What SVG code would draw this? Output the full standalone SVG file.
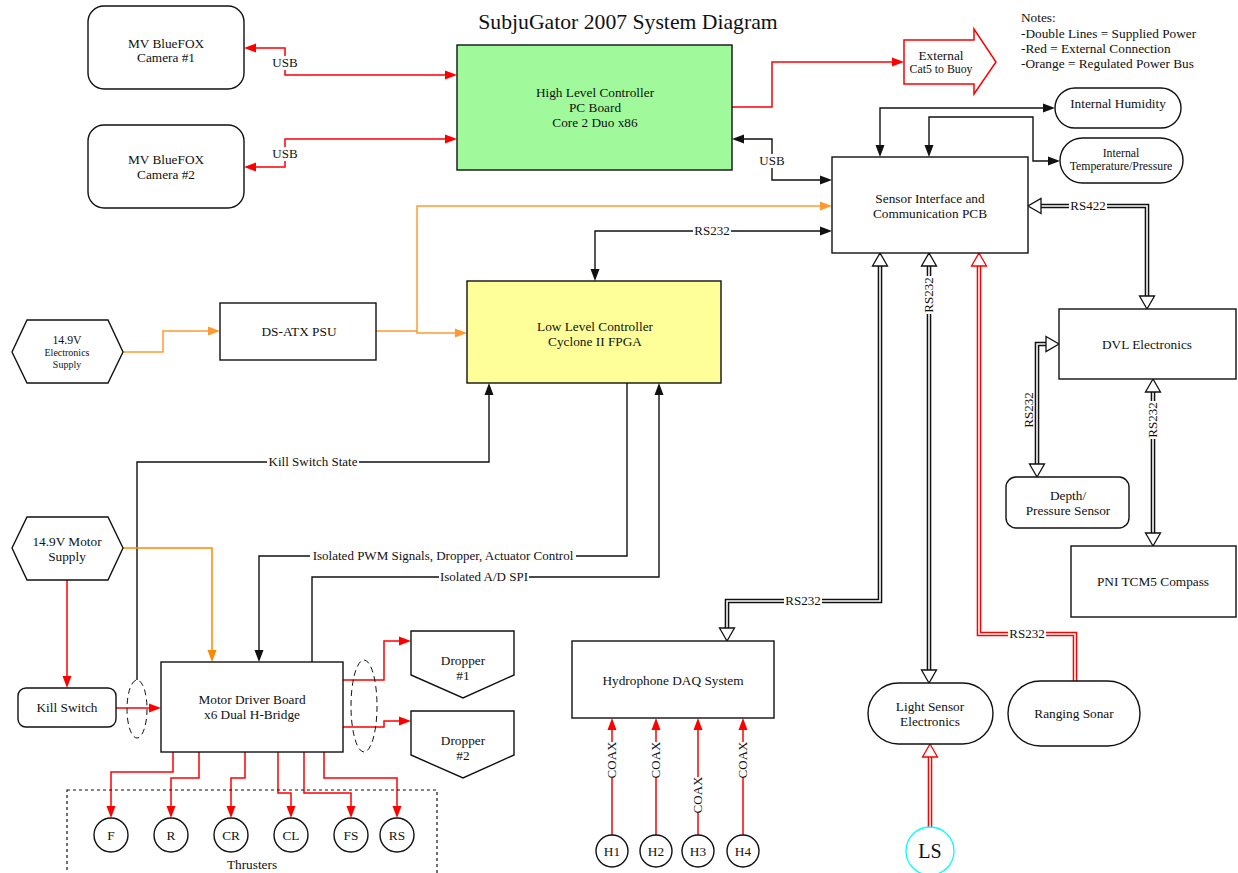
<svg xmlns="http://www.w3.org/2000/svg" width="1238" height="873" viewBox="0 0 1238 873">
<style>
text{font-family:"Liberation Serif","Times New Roman",serif;fill:#111;text-anchor:middle}
.n{font-size:13.3px}
.s{font-size:11.8px}
.xs{font-size:10px}
.lbl{font-size:13px}
.lb{fill:#fff;stroke:none}
.box{fill:#fff;stroke:#111;stroke-width:1.4}
.k{fill:none;stroke:#111;stroke-width:1.4}
.r{fill:none;stroke:#f00;stroke-width:1.5}
.o{fill:none;stroke:#ff9a33;stroke-width:1.5}
.o2{fill:none;stroke:#ff8800;stroke-width:1.5}
.dk{fill:none;stroke:#111;stroke-width:4.6}
.dr{fill:none;stroke:#f00;stroke-width:4.6}
.di{fill:none;stroke:#fff;stroke-width:1.6}
.note{font-size:13.3px;text-anchor:start}
</style>
<defs>
<marker id="ak" markerUnits="userSpaceOnUse" markerWidth="12" markerHeight="9" refX="0" refY="4.5" orient="auto-start-reverse" overflow="visible"><path d="M0,0 L12,4.5 L0,9 z" fill="#111"/></marker>
<marker id="ar" markerUnits="userSpaceOnUse" markerWidth="12" markerHeight="9" refX="0" refY="4.5" orient="auto-start-reverse" overflow="visible"><path d="M0,0 L12,4.5 L0,9 z" fill="#f00"/></marker>
<marker id="ao" markerUnits="userSpaceOnUse" markerWidth="12" markerHeight="9" refX="0" refY="4.5" orient="auto-start-reverse" overflow="visible"><path d="M0,0 L12,4.5 L0,9 z" fill="#ff9a33"/></marker>
<marker id="ao2" markerUnits="userSpaceOnUse" markerWidth="12" markerHeight="9" refX="0" refY="4.5" orient="auto-start-reverse" overflow="visible"><path d="M0,0 L12,4.5 L0,9 z" fill="#ff8800"/></marker>
<marker id="hk" markerUnits="userSpaceOnUse" markerWidth="13" markerHeight="15" refX="0" refY="7.5" orient="auto-start-reverse" overflow="visible"><path d="M0,0 L13,7.5 L0,15 z" fill="#fff" stroke="#111" stroke-width="1.3"/></marker>
<marker id="hr" markerUnits="userSpaceOnUse" markerWidth="13" markerHeight="15" refX="0" refY="7.5" orient="auto-start-reverse" overflow="visible"><path d="M0,0 L13,7.5 L0,15 z" fill="#fff" stroke="#f00" stroke-width="1.3"/></marker>
</defs>
<rect width="1238" height="873" fill="#fff"/>
<text x="628" y="29" style="font-size:21.7px">SubjuGator 2007 System Diagram</text>
<g id="notes">
<text class="note" x="1021" y="22">Notes:</text>
<text class="note" x="1021" y="38">-Double Lines = Supplied Power</text>
<text class="note" x="1021" y="53">-Red = External Connection</text>
<text class="note" x="1021" y="68">-Orange = Regulated Power Bus</text>
</g>

<g id="connectors">
<path class="r" d="M256,48 L285,48 L285,75 L445,75" marker-start="url(#ar)" marker-end="url(#ar)"/>
<rect class="lb" x="271" y="56" width="28" height="14"/><text class="lbl" x="285" y="67">USB</text>
<path class="r" d="M256,167 L285,167 L285,139 L445,139" marker-start="url(#ar)" marker-end="url(#ar)"/>
<rect class="lb" x="271" y="147" width="28" height="14"/><text class="lbl" x="285" y="158">USB</text>
<path class="r" d="M732,107 L772,107 L772,62 L892,62" marker-end="url(#ar)"/>
<path class="k" d="M744,139 L772,139 L772,180 L820,180" marker-start="url(#ak)" marker-end="url(#ak)"/>
<rect class="lb" x="758" y="154" width="28" height="14"/><text class="lbl" x="772" y="165">USB</text>
<path class="k" d="M880,145 L880,108 L1043,108" marker-start="url(#ak)" marker-end="url(#ak)"/>
<path class="k" d="M929,145 L929,117 L1033,117 L1033,161 L1048,161" marker-start="url(#ak)" marker-end="url(#ak)"/>
<path class="o" d="M376,331 L417,331 L417,206 L820,206" marker-end="url(#ao)"/>
<path class="o" d="M417,331 L417,333 L455,333" marker-end="url(#ao)"/>
<path class="o" d="M123,352 L163,352 L163,331 L208,331" marker-end="url(#ao)"/>
<path class="k" d="M820,231 L595,231 L595,269" marker-start="url(#ak)" marker-end="url(#ak)"/>
<rect class="lb" x="693" y="224" width="38" height="14"/><text class="lbl" x="712" y="235">RS232</text>
<path class="k" d="M137,680 L137,462 L489,462 L489,395" marker-end="url(#ak)"/>
<rect class="lb" x="267" y="455" width="92" height="14"/><text class="lbl" x="313" y="466">Kill Switch State</text>
<path class="k" d="M627,383 L627,556 L259,556 L259,650" marker-end="url(#ak)"/>
<rect class="lb" x="310" y="549" width="266" height="14"/><text class="lbl" x="443" y="560">Isolated PWM Signals, Dropper, Actuator Control</text>
<path class="k" d="M312,662 L312,577 L659,577 L659,395" marker-end="url(#ak)"/>
<rect class="lb" x="439" y="570" width="90" height="14"/><text class="lbl" x="484" y="581">Isolated A/D SPI</text>
<path class="o2" d="M123,548 L212,548 L212,650" marker-end="url(#ao2)"/>
<path class="r" d="M67,580 L67,676" marker-end="url(#ar)"/>
<path class="r" d="M116,708 L149,708" marker-end="url(#ar)"/>
<path class="r" d="M343,680 L384,680 L384,641 L399,641" marker-end="url(#ar)"/>
<path class="r" d="M343,727 L384,727 L384,721 L399,721" marker-end="url(#ar)"/>
<path class="r" d="M173,752 L173,772 L111,772 L111,806" marker-end="url(#ar)"/>
<path class="r" d="M199,752 L199,778 L171,778 L171,806" marker-end="url(#ar)"/>
<path class="r" d="M245,752 L245,778 L231,778 L231,806" marker-end="url(#ar)"/>
<path class="r" d="M278,752 L278,793 L291,793 L291,806" marker-end="url(#ar)"/>
<path class="r" d="M304,752 L304,793 L351,793 L351,806" marker-end="url(#ar)"/>
<path class="r" d="M324,752 L324,778 L397,778 L397,806" marker-end="url(#ar)"/>
<path class="r" d="M612,835 L612,730" marker-end="url(#ar)"/>
<path class="r" d="M656,835 L656,730" marker-end="url(#ar)"/>
<path class="r" d="M698,835 L698,730" marker-end="url(#ar)"/>
<path class="r" d="M743,835 L743,730" marker-end="url(#ar)"/>
<rect class="lb" x="605" y="742" width="13" height="36"/><text class="lbl" transform="translate(616,760) rotate(-90)">COAX</text>
<rect class="lb" x="649" y="742" width="13" height="36"/><text class="lbl" transform="translate(660,760) rotate(-90)">COAX</text>
<rect class="lb" x="691" y="777" width="13" height="36"/><text class="lbl" transform="translate(702,795) rotate(-90)">COAX</text>
<rect class="lb" x="736" y="742" width="13" height="36"/><text class="lbl" transform="translate(747,760) rotate(-90)">COAX</text>
<path class="dk" d="M880,266 L880,601 L727,601 L727,628"/>
<path class="di" d="M880,266 L880,601 L727,601 L727,628" marker-start="url(#hk)" marker-end="url(#hk)"/>
<rect class="lb" x="784" y="594" width="38" height="14"/><text class="lbl" x="803" y="605">RS232</text>
<path class="dk" d="M929,266 L929,670"/>
<path class="di" d="M929,266 L929,670" marker-start="url(#hk)" marker-end="url(#hk)"/>
<rect class="lb" x="922" y="276" width="13" height="38"/><text class="lbl" transform="translate(933,295) rotate(-90)">RS232</text>
<path class="dr" d="M1075,681 L1075,634 L979,634 L979,266"/>
<path class="di" d="M1075,681 L1075,634 L979,634 L979,266" marker-end="url(#hr)"/>
<rect class="lb" x="1008" y="627" width="38" height="14"/><text class="lbl" x="1027" y="638">RS232</text>
<path class="dr" d="M930,827 L930,757"/>
<path class="di" d="M930,827 L930,757" marker-end="url(#hr)"/>
<path class="dk" d="M1041,206 L1147,206 L1147,296"/>
<path class="di" d="M1041,206 L1147,206 L1147,296" marker-start="url(#hk)" marker-end="url(#hk)"/>
<rect class="lb" x="1069" y="199" width="38" height="14"/><text class="lbl" x="1088" y="210">RS422</text>
<path class="dk" d="M1046,344 L1037,344 L1037,464"/>
<path class="di" d="M1046,344 L1037,344 L1037,464" marker-start="url(#hk)" marker-end="url(#hk)"/>
<text class="lbl" transform="translate(1033,410) rotate(-90)">RS232</text>
<path class="dk" d="M1153,392 L1153,533"/>
<path class="di" d="M1153,392 L1153,533" marker-start="url(#hk)" marker-end="url(#hk)"/>
<rect class="lb" x="1146" y="401" width="13" height="38"/><text class="lbl" transform="translate(1157,420) rotate(-90)">RS232</text>
</g>

<g id="cam1"><rect class="box" x="88" y="6" width="156" height="83" rx="16"/><text class="n" x="166" y="48">MV BlueFOX</text><text class="n" x="166" y="62">Camera #1</text></g>
<g id="cam2"><rect class="box" x="88" y="125" width="156" height="83" rx="16"/><text class="n" x="166" y="164">MV BlueFOX</text><text class="n" x="166" y="179">Camera #2</text></g>
<g id="hlc"><rect x="457" y="45" width="275" height="125" fill="#a0fa9c" stroke="#111" stroke-width="1.4"/><text class="n" x="595" y="97">High Level Controller</text><text class="n" x="595" y="112">PC Board</text><text class="n" x="595" y="127">Core 2 Duo x86</text></g>
<g id="external"><polygon points="904,40 974,40 974,29 996,62 974,94 974,84 904,84" fill="#fff" stroke="#f00" stroke-width="1.5"/><text class="n" x="941" y="60">External</text><text class="s" x="941" y="73">Cat5 to Buoy</text></g>
<g id="humidity"><rect class="box" x="1055" y="88" width="126" height="40" rx="20"/><text class="n" x="1118" y="108">Internal Humidity</text></g>
<g id="temp"><rect class="box" x="1060" y="138" width="123" height="45" rx="22.5"/><text class="s" x="1121" y="157">Internal</text><text class="s" x="1121" y="170">Temperature/Pressure</text></g>
<g id="sip"><rect class="box" x="832" y="157" width="196" height="96"/><text class="n" x="930" y="203">Sensor Interface and</text><text class="n" x="930" y="218">Communication PCB</text></g>
<g id="llc"><rect x="467" y="281" width="254" height="102" fill="#ffff99" stroke="#111" stroke-width="1.4"/><text class="n" x="595" y="331">Low Level Controller</text><text class="n" x="595" y="346">Cyclone II FPGA</text></g>
<g id="psu"><rect class="box" x="220" y="303" width="156" height="57"/><text class="n" x="299" y="336">DS-ATX PSU</text></g>
<g id="esupply"><polygon class="box" points="12,352 27,320 108,320 123,352 108,383 27,383"/><text class="s" x="67" y="344">14.9V</text><text class="xs" x="67" y="356">Electronics</text><text class="xs" x="67" y="368">Supply</text></g>
<g id="msupply"><polygon class="box" points="12,548 27,517 108,517 123,548 108,580 27,580"/><text class="n" x="67" y="546">14.9V Motor</text><text class="n" x="67" y="561">Supply</text></g>
<g id="killswitch"><rect class="box" x="18" y="688" width="98" height="39" rx="8"/><text class="n" x="67" y="712">Kill Switch</text></g>
<g id="mdb"><rect class="box" x="161" y="662" width="182" height="90"/><text class="n" x="252" y="704">Motor Driver Board</text><text class="n" x="252" y="719">x6 Dual H-Bridge</text></g>
<g id="ell1"><ellipse cx="137" cy="709" rx="10" ry="29" fill="none" stroke="#111" stroke-width="1" stroke-dasharray="6,4"/></g>
<g id="ell2"><ellipse cx="364" cy="706" rx="13" ry="46" fill="none" stroke="#111" stroke-width="1" stroke-dasharray="6,4"/></g>
<g id="dropper1"><polygon class="box" points="411,631 514,631 514,675 463,698 411,675"/><text class="n" x="463" y="665">Dropper</text><text class="n" x="463" y="680">#1</text></g>
<g id="dropper2"><polygon class="box" points="411,711 514,711 514,755 463,778 411,755"/><text class="n" x="463" y="745">Dropper</text><text class="n" x="463" y="760">#2</text></g>
<g id="thrusters">
<rect x="67" y="790" width="370" height="90" fill="none" stroke="#111" stroke-width="1.2" stroke-dasharray="3,3"/>
<text class="n" x="252" y="869">Thrusters</text>
<g id="tF"><circle class="box" cx="111" cy="835" r="17"/><text class="n" x="111" y="840">F</text></g>
<g id="tR"><circle class="box" cx="171" cy="835" r="17"/><text class="n" x="171" y="840">R</text></g>
<g id="tCR"><circle class="box" cx="231" cy="835" r="17"/><text class="n" x="231" y="840">CR</text></g>
<g id="tCL"><circle class="box" cx="291" cy="835" r="17"/><text class="n" x="291" y="840">CL</text></g>
<g id="tFS"><circle class="box" cx="351" cy="835" r="17"/><text class="n" x="351" y="840">FS</text></g>
<g id="tRS"><circle class="box" cx="397" cy="835" r="17"/><text class="n" x="397" y="840">RS</text></g>
</g>
<g id="daq"><rect class="box" x="572" y="641" width="202" height="77"/><text class="n" x="673" y="685">Hydrophone DAQ System</text></g>
<g id="h1"><circle class="box" cx="612" cy="851" r="16"/><text class="n" x="612" y="856">H1</text></g>
<g id="h2"><circle class="box" cx="656" cy="851" r="16"/><text class="n" x="656" y="856">H2</text></g>
<g id="h3"><circle class="box" cx="698" cy="851" r="16"/><text class="n" x="698" y="856">H3</text></g>
<g id="h4"><circle class="box" cx="743" cy="851" r="16"/><text class="n" x="743" y="856">H4</text></g>
<g id="lightsensor"><rect class="box" x="868" y="683" width="125" height="61" rx="30.5"/><text class="n" x="930" y="711">Light Sensor</text><text class="n" x="930" y="726">Electronics</text></g>
<g id="sonar"><rect class="box" x="1008" y="681" width="132" height="65" rx="32.5"/><text class="n" x="1074" y="718">Ranging Sonar</text></g>
<g id="ls"><circle cx="930" cy="851" r="24" fill="#fff" stroke="#00ffff" stroke-width="1.3"/><text x="930" y="858" style="font-size:20px">LS</text></g>
<g id="dvl"><rect class="box" x="1059" y="309" width="177" height="70"/><text class="n" x="1147" y="349">DVL Electronics</text></g>
<g id="depth"><rect class="box" x="1006" y="477" width="123" height="51" rx="10"/><text class="n" x="1068" y="500">Depth/</text><text class="n" x="1068" y="515">Pressure Sensor</text></g>
<g id="compass"><rect class="box" x="1071" y="546" width="165" height="71"/><text class="n" x="1153" y="586">PNI TCM5 Compass</text></g>
</svg>
